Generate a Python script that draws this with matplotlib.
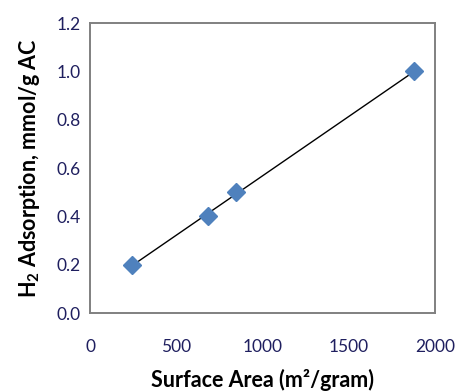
import matplotlib
matplotlib.use("Agg")
import matplotlib.pyplot as plt
import numpy as np

surface_area = [243, 684, 846, 1878]
h2_adsorption = [0.20, 0.40, 0.50, 1.00]
x_ticks = [0, 500, 1000, 1500, 2000]
y_ticks = [0.0, 0.2, 0.4, 0.6, 0.8, 1.0, 1.2]

plt.rcParams["font.family"] = ["Lato", "DejaVu Sans"]
plt.rcParams["mathtext.fontset"] = "custom"
plt.rcParams["mathtext.bf"] = "Lato:bold"
plt.rcParams["mathtext.rm"] = "Lato"

fig = plt.figure(figsize=(4.57, 3.92), dpi=100)
ax = fig.add_axes([0.197, 0.2015, 0.755, 0.7395])

# linear trendline over data range
slope, intercept = np.polyfit(surface_area, h2_adsorption, 1)
xs = np.array([min(surface_area), max(surface_area)])
ax.plot(xs, slope * xs + intercept, color="black", lw=1)
ax.plot(surface_area, h2_adsorption, linestyle="none", marker="D",
        markersize=9, color="#4F81BD", markeredgecolor="#4F81BD")

ax.set_xlim(0, 2000)
ax.set_ylim(0, 1.2)
ax.set_xticks(x_ticks)
ax.set_yticks(y_ticks)
ax.set_xticklabels([str(v) for v in x_ticks])
ax.set_yticklabels([f"{v:.1f}" for v in y_ticks])
ax.tick_params(axis="both", length=0, labelsize=12.5, colors="#1F1F5F")
ax.tick_params(axis="x", pad=19)
ax.tick_params(axis="y", pad=7)
for s in ax.spines.values():
    s.set_color("#808080")
    s.set_linewidth(1.4)

ax.set_xlabel("Surface Area (m²/gram)", fontsize=15.5, fontweight="bold", labelpad=9.5)
ax.set_ylabel(r"H$_\mathbf{2}$ Adsorption, mmol/g AC", fontsize=15.5,
              fontweight="bold", labelpad=10)

fig.savefig("out.png", dpi=100)
